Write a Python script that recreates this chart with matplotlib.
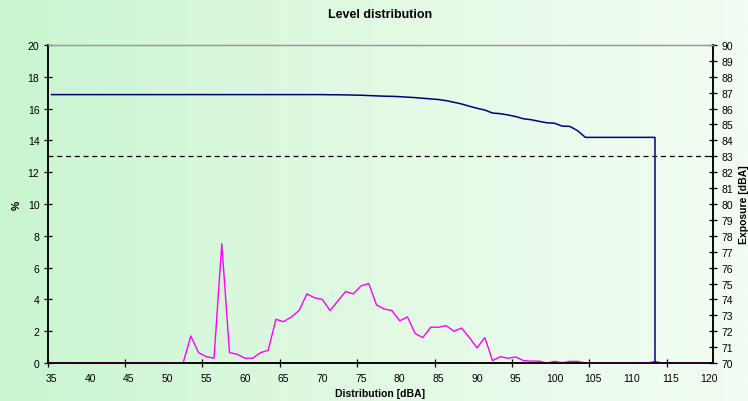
"""Level distribution chart: percentage per dBA bin plus cumulative exposure."""

import matplotlib
matplotlib.use("Agg")
import matplotlib.pyplot as plt
import numpy as np

plt.rcParams["font.family"] = ["Liberation Sans", "DejaVu Sans"]

# ---------------------------------------------------------------------------
# Data
# ---------------------------------------------------------------------------

levels = list(range(35, 121))

distribution = (
    [0.0] * 18  # 35..52
    + [1.7, 0.65, 0.4, 0.3, 7.5, 0.65, 0.55, 0.3, 0.3, 0.65,  # 53..62
       0.8, 2.75, 2.6, 2.9, 3.3, 4.35, 4.1, 4.0, 3.3, 3.9,    # 63..72
       4.5, 4.35, 4.85, 5.0, 3.65, 3.4, 3.3, 2.65, 2.9, 1.85,  # 73..82
       1.6, 2.25, 2.25, 2.35, 2.0, 2.2, 1.6, 0.95, 1.6, 0.15,  # 83..92
       0.4, 0.3, 0.38, 0.15, 0.12, 0.12, 0.0, 0.1, 0.02, 0.1,  # 93..102
       0.1]                                                    # 103
    + [0.0] * 9  # 104..112
    + [0.1]      # 113
    + [0.0] * 7  # 114..120
)

exposure_levels = list(range(35, 114)) + [113]
exposure = (
    [86.88] * 36  # 35..70
    + [86.87, 86.87, 86.86, 86.85, 86.84, 86.82, 86.80, 86.78, 86.77, 86.75,  # 71..80
       86.72, 86.69, 86.65, 86.61, 86.57, 86.50, 86.40, 86.29, 86.15, 86.02,  # 81..90
       85.91, 85.72, 85.68, 85.60, 85.50, 85.36, 85.30, 85.20, 85.11, 85.08,  # 91..100
       84.90, 84.88, 84.61]                                                    # 101..103
    + [84.19] * 10  # 104..113
    + [70.0]        # drop at 113
)

limit_level = 83.0

x_labels = list(range(35, 121, 5))

# ---------------------------------------------------------------------------
# Figure
# ---------------------------------------------------------------------------

fig = plt.figure(figsize=(7.48, 4.02), dpi=100)

# background gradient (light green -> near white)
bg = fig.add_axes([0, 0, 1, 1], zorder=-10)
grad = np.linspace(0, 1, 256).reshape(1, -1)
cmap = matplotlib.colors.LinearSegmentedColormap.from_list(
    "bg", ["#c9f5d0", "#e2f9e4", "#f3fdf3"])
bg.imshow(grad, aspect="auto", cmap=cmap, extent=[0, 1, 0, 1])
bg.set_axis_off()

ax = fig.add_axes([0.0638, 0.0945, 0.8894, 0.7911])
ax.set_facecolor("none")
ax2 = ax.twinx()

ax.plot(levels, distribution, color="#ff00ff", linewidth=1.0, zorder=3)
ax2.plot(exposure_levels, exposure, color="#000080", linewidth=1.1, zorder=3)
ax2.axhline(limit_level, color="black", linewidth=0.9, linestyle=(0, (4, 3)))

ax.set_xlim(34.5, 120.5)
ax.set_ylim(0, 20)
ax2.set_ylim(70, 90)

# category-style axis: ticks between categories, labels at centres
ax.set_xticks(np.arange(34.5, 120, 10))
ax.set_xticklabels([])
ax.set_xticks(x_labels, minor=True)
ax.set_xticklabels([str(v) for v in x_labels], minor=True)
ax.tick_params(axis="x", which="major", direction="inout", length=6, width=0.9)
ax.tick_params(axis="x", which="minor", length=0, pad=7, labelsize=7.5)

ax.set_yticks(range(0, 21, 2))
ax.tick_params(axis="y", direction="inout", length=6, width=0.9, labelsize=7.5, pad=3)
ax2.set_yticks(range(70, 91, 1))
ax2.tick_params(axis="y", direction="inout", length=6, width=0.9, labelsize=7.5, pad=3)

for a in (ax, ax2):
    a.spines["top"].set_color("#999999")
    a.spines["top"].set_linewidth(0.9)
    a.spines["left"].set_linewidth(1.1)
    a.spines["right"].set_linewidth(1.1)
    a.spines["bottom"].set_linewidth(1.1)

ax.set_title("Level distribution", fontsize=9, fontweight="bold", pad=20.5)
ax.set_xlabel("Distribution [dBA]", fontsize=7.5, fontweight="bold", labelpad=4)
ax.set_ylabel("%", fontsize=7.5, fontweight="bold", labelpad=4)
ax2.set_ylabel("Exposure [dBA]", fontsize=7.5, fontweight="bold", labelpad=4)

fig.savefig("out.png", dpi=100)
